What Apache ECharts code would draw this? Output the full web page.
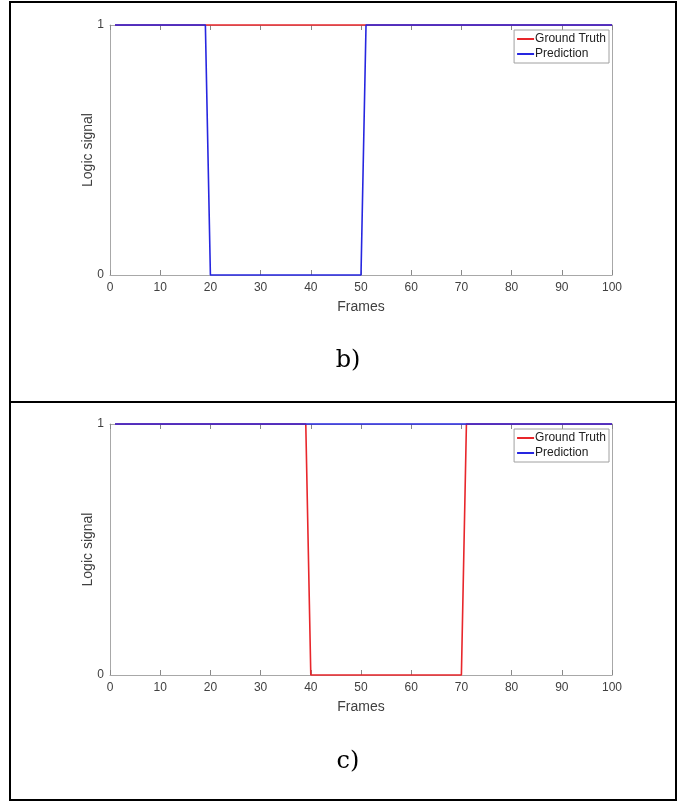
<!DOCTYPE html>
<html>
<head>
<meta charset="utf-8">
<script src="https://cdn.jsdelivr.net/npm/echarts@6/dist/echarts.min.js"></script>
<style>
  html, body { margin: 0; padding: 0; background: #fff; }
  #chart { width: 678px; height: 802px; }
</style>
</head>
<body>
<div id="chart"></div>
<script>
// step signals, stored as their corner points (frame, logic value)
const truthB_x = [1, 100];
const truthB_y = [1, 1];
const predB_x = [1, 19, 20, 50, 51, 100];
const predB_y = [1, 1, 0, 0, 1, 1];

const truthC_x = [1, 39, 40, 70, 71, 100];
const truthC_y = [1, 1, 0, 0, 1, 1];
const predC_x = [1, 100];
const predC_y = [1, 1];

const seriesNames = ['Ground Truth', 'Prediction'];
const panelLabels = ['b)', 'c)'];
const xTicks = [0, 100, 10]; // min, max, step
const yTicks = [0, 1];

const pairs = (xs, ys) => xs.map((x, i) => [x, ys[i]]);

const axisGray = '#a8a8a8';
const textGray = '#404040';
const sans = 'Liberation Sans, Arial, sans-serif';

// 两个面板的网格位置
const grids = [
  { left: 110, top: 25, width: 502, height: 250 },
  { left: 110, top: 424, width: 502, height: 251 },
];

const xAxes = [];
const yAxes = [];
grids.forEach((g, i) => {
  // bottom axis with labels
  xAxes.push({
    gridIndex: i, type: 'value', min: xTicks[0], max: xTicks[1], interval: xTicks[2],
    name: 'Frames', nameLocation: 'middle', nameGap: 25,
    nameTextStyle: { fontFamily: sans, fontSize: 14, color: textGray },
    axisLine: { onZero: false, lineStyle: { color: axisGray } },
    axisTick: { inside: true, length: 5, lineStyle: { color: '#888' } },
    axisLabel: { margin: 7, fontFamily: sans, fontSize: 12, color: textGray },
    splitLine: { show: false },
  });
  // top axis, ticks only
  xAxes.push({
    gridIndex: i, type: 'value', position: 'top', min: xTicks[0], max: xTicks[1], interval: xTicks[2],
    axisLine: { show: true, onZero: false, lineStyle: { color: axisGray } },
    axisTick: { inside: true, length: 5, lineStyle: { color: '#888' } },
    axisLabel: { show: false },
    splitLine: { show: false },
  });
  yAxes.push({
    gridIndex: i, type: 'value', min: yTicks[0], max: yTicks[1], interval: 1,
    name: 'Logic signal', nameLocation: 'middle', nameGap: 15, nameMoveOverlap: false,
    nameTextStyle: { fontFamily: sans, fontSize: 14, color: textGray },
    axisLine: { show: true, onZero: false, lineStyle: { color: axisGray } },
    axisTick: { show: false },
    axisLabel: { margin: 6, fontFamily: sans, fontSize: 12, color: textGray },
    splitLine: { show: false },
  });
  yAxes.push({
    gridIndex: i, type: 'value', position: 'right', min: yTicks[0], max: yTicks[1], interval: 1,
    axisLine: { show: true, onZero: false, lineStyle: { color: axisGray } },
    axisTick: { show: false },
    axisLabel: { show: false },
    splitLine: { show: false },
  });
});

const lineSeries = (name, data, color, panel) => ({
  name, type: 'line', data,
  xAxisIndex: panel * 2, yAxisIndex: panel * 2,
  showSymbol: false, clip: false, animation: false,
  lineStyle: { color, width: 1.6 },
  itemStyle: { color },
});

const red = '#e8262b';
const blue = '#2626e0';

const legends = grids.map((g) => ({
  data: seriesNames,
  orient: 'vertical',
  right: 678 - 609,
  top: g.top + 5,
  itemWidth: 17, itemHeight: 2, itemGap: 3,
  icon: 'rect',
  padding: [3, 3, 3, 3],
  backgroundColor: '#fff',
  borderColor: '#a0a0a0', borderWidth: 1,
  textStyle: { fontFamily: sans, fontSize: 12, color: '#222', padding: [0, 0, 0, -4] },
  selectedMode: false,
}));

const border = (x1, y1, x2, y2) => ({
  type: 'line', shape: { x1, y1, x2, y2 },
  style: { stroke: '#000', lineWidth: 2 },
});

const panelText = (t, y) => ({
  type: 'text', x: 348, y, z: 10,
  style: {
    text: t, textAlign: 'center', textVerticalAlign: 'middle',
    font: '24px "DejaVu Serif", "Liberation Serif", serif', fill: '#000',
  },
});

const option = {
  animation: false,
  grid: grids,
  xAxis: xAxes,
  yAxis: yAxes,
  legend: legends,
  graphic: [
    border(10, 2, 677, 2),
    border(10, 402, 677, 402),
    border(10, 800, 677, 800),
    border(10, 1, 10, 801),
    border(676, 1, 676, 801),
    panelText(panelLabels[0], 361),
    panelText(panelLabels[1], 762),
  ],
  series: [
    lineSeries(seriesNames[0], pairs(truthB_x, truthB_y), red, 0),
    lineSeries(seriesNames[1], pairs(predB_x, predB_y), blue, 0),
    lineSeries(seriesNames[0], pairs(truthC_x, truthC_y), red, 1),
    lineSeries(seriesNames[1], pairs(predC_x, predC_y), blue, 1),
  ],
};

const myChart = echarts.init(document.getElementById('chart'));
myChart.setOption(option);
</script>
</body>
</html>
